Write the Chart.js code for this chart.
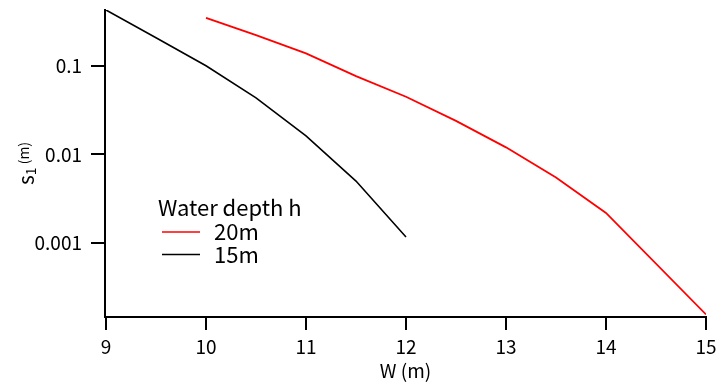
<!DOCTYPE html>
<html>
<head>
<meta charset="utf-8">
<script src="https://cdn.jsdelivr.net/npm/chart.js@4/dist/chart.umd.min.js"></script>
<style>
html,body{margin:0;padding:0;background:#fff;}
#wrap{width:716px;height:382px;}
</style>
</head>
<body>
<div id="wrap"><canvas id="c" width="716" height="382"></canvas></div>
<script>
const widthW20 = [10, 10.5, 11, 11.5, 12, 12.5, 13, 13.5, 14, 15];
const s1_20m   = [0.348, 0.222, 0.138, 0.0765, 0.0447, 0.0239, 0.0120, 0.00548, 0.00218, 0.000156];
const widthW15 = [9, 9.5, 10, 10.5, 11, 11.5, 12];
const s1_15m   = [0.426, 0.207, 0.100, 0.0435, 0.0162, 0.00500, 0.00117];
const xTickValues = [9, 10, 11, 12, 13, 14, 15];
const yTickValues = [0.001, 0.01, 0.1];
const yTickLabels = ['0.001', '0.01', '0.1'];
const seriesNames = ['20m', '15m'];
const legendTitle = 'Water depth h';
const xAxisTitle = 'W (m)';
const yAxisTitleMain = 's';
const yAxisTitleSub = '1';
const yAxisTitleUnit = ' (m)';

const FONT = '"Noto Sans CJK JP", "DejaVu Sans", sans-serif';

const legendPlugin = {
  id: 'insideLegend',
  afterDatasetsDraw(chart) {
    const ctx = chart.ctx;
    ctx.save();
    ctx.font = '22px ' + FONT;
    ctx.fillStyle = '#000';
    ctx.textBaseline = 'middle';
    ctx.textAlign = 'left';
    ctx.fillText(legendTitle, 158, 208);
    chart.data.datasets.forEach((ds, i) => {
      const y = 232 + i * 22.5;
      ctx.strokeStyle = ds.borderColor;
      ctx.lineWidth = 1.6;
      ctx.beginPath();
      ctx.moveTo(162, y);
      ctx.lineTo(200, y);
      ctx.stroke();
      ctx.fillStyle = '#000';
      ctx.fillText(ds.label, 214, y);
    });
    ctx.restore();
  }
};

const yTitlePlugin = {
  id: 'yTitle',
  afterDraw(chart) {
    const ctx = chart.ctx;
    const ca = chart.chartArea;
    ctx.save();
    ctx.translate(26, (ca.top + ca.bottom) / 2);
    ctx.rotate(-Math.PI / 2);
    ctx.fillStyle = '#000';
    ctx.textBaseline = 'middle';
    ctx.textAlign = 'left';
    const fMain = '21px ' + FONT, fSmall = '14px ' + FONT;
    ctx.font = fMain; const w1 = ctx.measureText(yAxisTitleMain).width;
    ctx.font = fSmall; const w2 = ctx.measureText(yAxisTitleSub).width;
    const w3 = ctx.measureText(yAxisTitleUnit).width;
    let x = -(w1 + w2 + w3) / 2;
    ctx.font = fMain; ctx.fillText(yAxisTitleMain, x, 0); x += w1;
    ctx.font = fSmall; ctx.fillText(yAxisTitleSub, x, 5); x += w2;
    ctx.fillText(yAxisTitleUnit, x, -2);
    ctx.restore();
  }
};

new Chart(document.getElementById('c'), {
  type: 'line',
  data: {
    datasets: [
      { label: seriesNames[0], data: widthW20.map((x, i) => ({x, y: s1_20m[i]})),
        borderColor: '#ff0000', borderWidth: 1.8, pointRadius: 0, fill: false, tension: 0 },
      { label: seriesNames[1], data: widthW15.map((x, i) => ({x, y: s1_15m[i]})),
        borderColor: '#000000', borderWidth: 1.6, pointRadius: 0, fill: false, tension: 0 }
    ]
  },
  options: {
    responsive: false,
    devicePixelRatio: 1,
    animation: false,
    layout: { padding: { top: 10, right: 10, left: 0, bottom: 0 } },
    plugins: { legend: { display: false }, tooltip: { enabled: false } },
    scales: {
      x: {
        type: 'linear',
        min: 8.99, max: 15,
        afterBuildTicks: s => { s.ticks = xTickValues.map(v => ({value: v})); },
        afterFit: s => { s.height = 65; s.paddingLeft = 0; s.paddingRight = 0; },
        grid: { display: true, drawOnChartArea: false, drawTicks: true, tickLength: 13, color: '#000', lineWidth: 2 },
        border: { display: true, color: '#000', width: 2 },
        ticks: { color: '#000', font: { family: FONT, size: 19 }, padding: 5, maxRotation: 0 },
        title: { display: true, text: xAxisTitle, color: '#000', font: { family: FONT, size: 19 }, padding: { top: -9, bottom: 0 } }
      },
      y: {
        type: 'logarithmic',
        min: 0.000146, max: 0.426,
        afterBuildTicks: s => { s.ticks = yTickValues.map(v => ({value: v})); },
        afterFit: s => { s.width = 105; s.paddingTop = 0; s.paddingBottom = 0; },
        grid: { display: true, drawOnChartArea: false, drawTicks: true, tickLength: 14, color: '#000', lineWidth: 2 },
        border: { display: true, color: '#000', width: 2 },
        ticks: { color: '#000', font: { family: FONT, size: 19 }, padding: 9,
                 callback: (v) => { const i = yTickValues.indexOf(v); return i >= 0 ? yTickLabels[i] : ''; } },
        title: { display: false }
      }
    }
  },
  plugins: [legendPlugin, yTitlePlugin]
});
</script>
</body>
</html>
